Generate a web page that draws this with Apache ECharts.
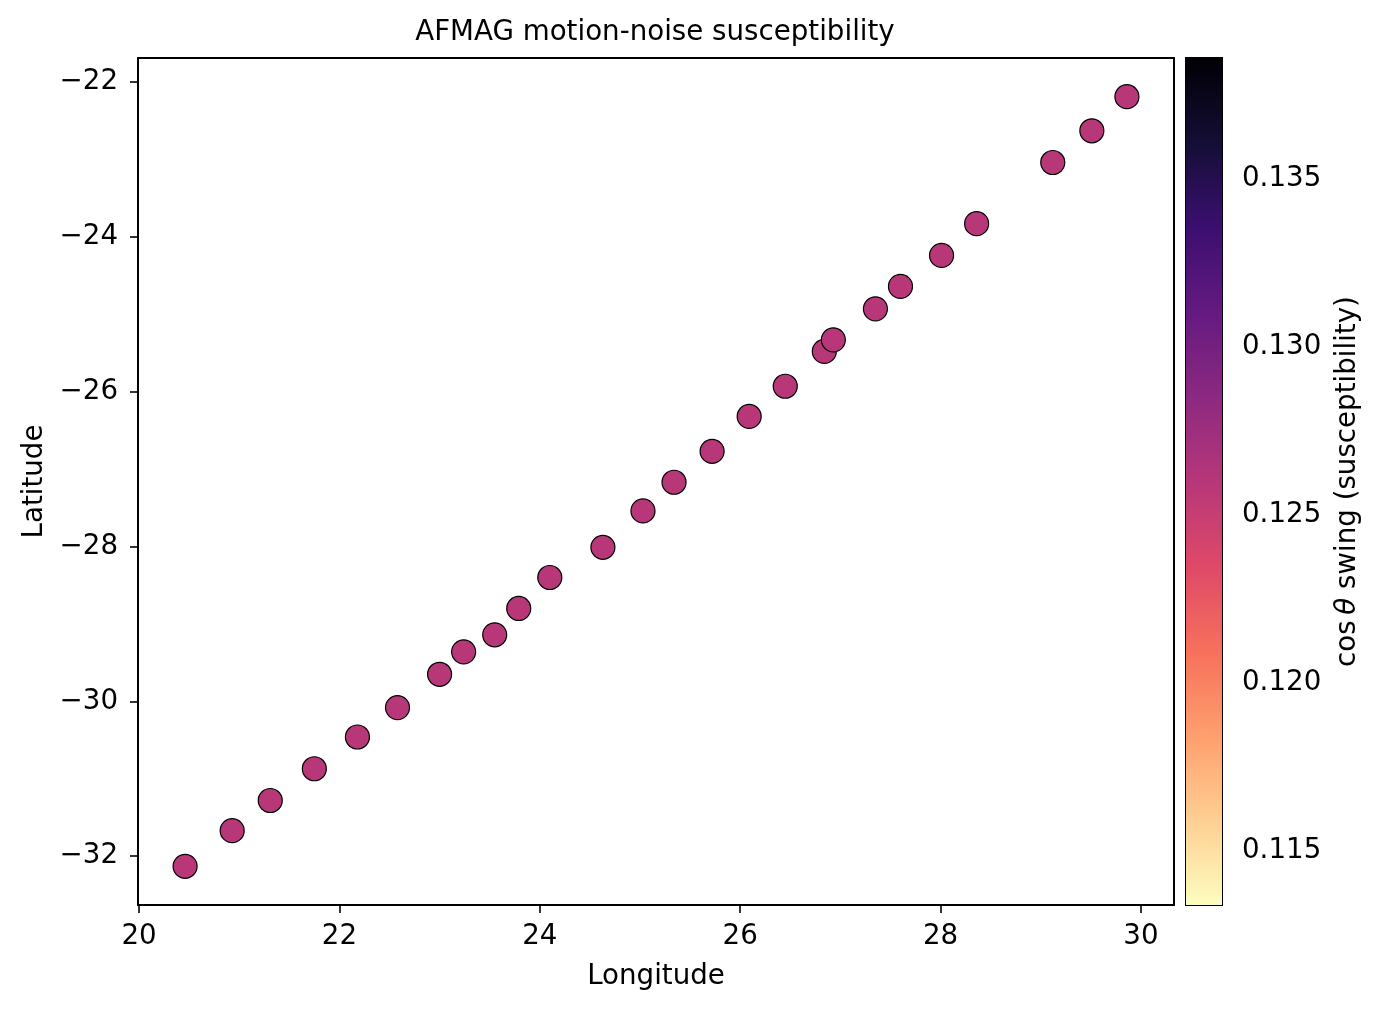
<!DOCTYPE html>
<html>
<head>
<meta charset="utf-8">
<title>AFMAG motion-noise susceptibility</title>
<script src="https://cdn.jsdelivr.net/npm/echarts@6/dist/echarts.min.js"></script>
<style>
  html, body { margin: 0; padding: 0; background: #fff; }
  #charts { width: 1384px; height: 1012px; }
</style>
</head>
<body>
<div id="charts"></div>
<script>
// station positions
const lon = [20.46, 20.93, 21.31, 21.75, 22.18, 22.58, 23.00, 23.24, 23.55, 23.79, 24.10, 24.63, 25.03,
             25.34, 25.72, 26.09, 26.45, 26.84, 26.93, 27.35, 27.60, 28.01, 28.36, 29.12, 29.51, 29.86];
const lat = [-32.13, -31.67, -31.28, -30.87, -30.46, -30.08, -29.65, -29.36, -29.14, -28.80, -28.40, -28.01, -27.54,
             -27.17, -26.77, -26.32, -25.93, -25.48, -25.33, -24.93, -24.64, -24.24, -23.83, -23.04, -22.63, -22.19];
// cos(theta) swing: every station has the same value
const swing = [0.126, 0.126, 0.126, 0.126, 0.126, 0.126, 0.126, 0.126, 0.126, 0.126, 0.126, 0.126, 0.126,
               0.126, 0.126, 0.126, 0.126, 0.126, 0.126, 0.126, 0.126, 0.126, 0.126, 0.126, 0.126, 0.126];

const lonTicks = [20, 22, 24, 26, 28, 30];
const latTicks = [-32, -30, -28, -26, -24, -22];
const swingTicks = [0.115, 0.120, 0.125, 0.130, 0.135];

const lonRange = [19.99, 30.33];
const latRange = [-32.63, -21.69];
const swingRange = [0.1134, 0.1386];

// magma, reversed (low = pale yellow, high = black)
const magmaR = ['#fcfdbf', '#fecf92', '#fe9f6d', '#f7705c', '#de4968', '#b73779',
                '#8c2981', '#641a80', '#3b0f70', '#140e36', '#000004'];

const FONT = 'DejaVu Sans';
const FS = 27.7;

var chartDom = document.getElementById('charts');
var myChart = echarts.init(chartDom, null, {renderer: 'canvas'});

const points = lon.map((x, i) => [x, lat[i], swing[i]]);

const minusFmt = v => (v < 0 ? '\u2212' + Math.abs(v) : String(v));

const axisText = {color: '#000', fontFamily: FONT, fontSize: FS};

const gradStops = magmaR.map((c, i) => ({offset: i / (magmaR.length - 1), color: c}));

var option = {
    animation: false,
    backgroundColor: '#fff',
    title: {
        text: 'AFMAG motion-noise susceptibility',
        left: 655,
        textAlign: 'center',
        top: 19,
        padding: 0,
        textStyle: {color: '#000', fontFamily: FONT, fontSize: FS, fontWeight: 'normal'}
    },
    grid: [
        {left: 138, top: 58, right: 210, bottom: 107, show: true, borderColor: '#000', borderWidth: 2},
        {left: 1186, top: 58, width: 36, bottom: 107, show: true, borderColor: '#000', borderWidth: 2}
    ],
    visualMap: {
        type: 'continuous',
        show: false,
        seriesIndex: 0,
        dimension: 2,
        min: swingRange[0],
        max: swingRange[1],
        inRange: {color: magmaR}
    },
    xAxis: [
        {
            gridIndex: 0,
            type: 'value',
            min: lonRange[0],
            max: lonRange[1],
            name: 'Longitude',
            nameLocation: 'middle',
            nameGap: 58,
            nameTextStyle: axisText,
            splitLine: {show: false},
            axisLine: {lineStyle: {color: '#000', width: 2}},
            axisTick: {inside: false, length: 8, lineStyle: {color: '#000', width: 1.6}, customValues: lonTicks},
            axisLabel: Object.assign({margin: 18, customValues: lonTicks}, axisText)
        },
        {
            gridIndex: 1,
            type: 'value',
            min: 0,
            max: 1,
            show: false
        }
    ],
    yAxis: [
        {
            gridIndex: 0,
            type: 'value',
            min: latRange[0],
            max: latRange[1],
            name: 'Latitude',
            nameLocation: 'middle',
            nameGap: 86,
            nameTextStyle: axisText,
            splitLine: {show: false},
            axisLine: {lineStyle: {color: '#000', width: 2}},
            axisTick: {inside: false, length: 8, lineStyle: {color: '#000', width: 1.6}, customValues: latTicks},
            axisLabel: Object.assign({margin: 20, customValues: latTicks, formatter: minusFmt}, axisText)
        },
        {
            gridIndex: 1,
            type: 'value',
            position: 'right',
            min: swingRange[0],
            max: swingRange[1],
            name: 'cos\u2009{it|\u03b8} swing (susceptibility)',
            nameLocation: 'middle',
            nameRotate: 90,
            nameGap: 112,
            nameTextStyle: Object.assign({
                rich: {it: {fontStyle: 'italic', fontFamily: FONT, fontSize: FS, color: '#000'}}
            }, axisText),
            splitLine: {show: false},
            axisLine: {show: false},
            axisTick: {inside: false, length: 8, lineStyle: {color: '#000', width: 1.6}, customValues: swingTicks},
            axisLabel: Object.assign({
                margin: 20,
                customValues: swingTicks,
                formatter: v => v.toFixed(3)
            }, axisText)
        }
    ],
    series: [
        {
            name: 'stations',
            type: 'scatter',
            xAxisIndex: 0,
            yAxisIndex: 0,
            symbol: 'circle',
            symbolSize: 24,
            itemStyle: {borderColor: '#000', borderWidth: 1.2, opacity: 1},
            data: points
        },
        {
            name: 'colorbar',
            type: 'custom',
            xAxisIndex: 1,
            yAxisIndex: 1,
            silent: true,
            data: [[0, swingRange[0], swingRange[1]]],
            renderItem: (params, api) => {
                const lo = api.coord([0, api.value(1)]);
                const hi = api.coord([1, api.value(2)]);
                return {
                    type: 'rect',
                    shape: {x: lo[0], y: hi[1], width: hi[0] - lo[0], height: lo[1] - hi[1]},
                    style: {fill: new echarts.graphic.LinearGradient(0, 1, 0, 0, gradStops)}
                };
            },
            z: 1
        }
    ]
};

myChart.setOption(option);
</script>
</body>
</html>
